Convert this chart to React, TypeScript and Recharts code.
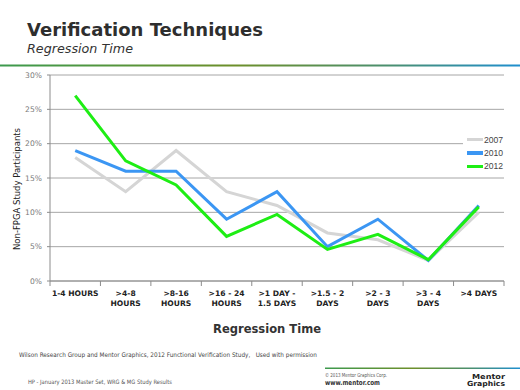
import React from 'react';
import { LineChart, Line, XAxis, YAxis, CartesianGrid, Legend } from 'recharts';

const categories = [
  '1-4 HOURS',
  '>4-8\nHOURS',
  '>8-16\nHOURS',
  '>16 - 24\nHOURS',
  '>1 DAY -\n1.5 DAYS',
  '>1.5 - 2\nDAYS',
  '>2 - 3\nDAYS',
  '>3 - 4\nDAYS',
  '>4 DAYS',
];
const values2007 = [18, 13, 19, 13, 11, 7, 6, 3, 10];
const values2010 = [19, 16, 16, 9, 13, 5, 9, 3, 11];
const values2012 = [27, 17.5, 14, 6.5, 9.7, 4.6, 6.8, 3.1, 10.8];
const yTicks = [0, 5, 10, 15, 20, 25, 30];
const seriesNames = ['2007', '2010', '2012'];
const seriesColors = ['#d5d5d5', '#3b96f3', '#1eee14'];

const data = categories.map((cat, i) => ({
  cat,
  '2007': values2007[i],
  '2010': values2010[i],
  '2012': values2012[i],
}));

const FONT = '"DejaVu Sans", Verdana, sans-serif';

const XTick = (props: any) => {
  const { x, y, payload, index, visibleTicksCount } = props;
  const off = payload && typeof payload.offset === 'number' && payload.offset > 0 ? payload.offset : 25.2;
  const lines = String(payload.value).split('\n');
  const isLast = index === visibleTicksCount - 1;
  return (
    <g>
      <line x1={x - off} x2={x - off} y1={y - 5} y2={y} stroke="#8c8c8c" strokeWidth={1} />
      {isLast && <line x1={x + off} x2={x + off} y1={y - 5} y2={y} stroke="#8c8c8c" strokeWidth={1} />}
      <text x={x} y={y} textAnchor="middle" fontFamily={FONT} fontWeight="bold" fontSize={7.6} fill="#222">
        {lines.map((ln, k) => (
          <tspan key={k} x={x} dy={10}>{ln}</tspan>
        ))}
      </text>
    </g>
  );
};

const LegendContent = () => (
  <div style={{ background: '#fff', padding: '0 0 0 4px', width: 52 }}>
    {seriesNames.map((n, i) => (
      <div key={n} style={{ display: 'flex', alignItems: 'center', height: 13.4 }}>
        <span style={{ display: 'inline-block', width: 16, height: 3.5, background: seriesColors[i] }} />
        <span style={{ fontFamily: '"Liberation Sans", Arial, sans-serif', fontSize: 8.6, color: '#444', marginLeft: 1, lineHeight: '10px' }}>{n}</span>
      </div>
    ))}
  </div>
);

export default function App() {
  return (
    <div style={{ position: 'absolute', left: 0, top: 0, width: 520, height: 390, background: '#fff', overflow: 'hidden' }}>
      <LineChart width={520} height={390} data={data} margin={{ top: 75, right: 16, left: 10, bottom: 64 }}>
        <CartesianGrid horizontal vertical={false} stroke="#a6a6a6" strokeWidth={1} />
        <XAxis
          dataKey="cat"
          scale="band"
          interval={0}
          height={45}
          tickLine={false}
          tickSize={5}
          tickMargin={0}
          axisLine={{ stroke: '#8c8c8c' }}
          tick={<XTick />}
        />
        <YAxis
          width={40}
          domain={[0, 30]}
          ticks={yTicks}
          interval={0}
          tickFormatter={(v: number) => `${v}%`}
          tickSize={3}
          tickMargin={5}
          axisLine={{ stroke: '#8c8c8c' }}
          tickLine={{ stroke: '#8c8c8c' }}
          tick={{ fontFamily: FONT, fontSize: 7.6, fill: '#7a7a7a' }}
        />
        <Legend
          layout="vertical"
          align="center"
          verticalAlign="middle"
          content={<LegendContent />}
          wrapperStyle={{ left: 463, top: 133, width: 57 }}
        />
        {seriesNames.map((n, i) => (
          <Line
            key={n}
            dataKey={n}
            type="linear"
            stroke={seriesColors[i]}
            strokeWidth={3}
            dot={false}
            activeDot={false}
            isAnimationActive={false}
          />
        ))}
      </LineChart>
      <svg width={520} height={390} style={{ position: 'absolute', left: 0, top: 0, pointerEvents: 'none' }}>
        <defs>
          <linearGradient id="sep" x1="0" x2="1" y1="0" y2="0">
            <stop offset="0%" stopColor="#3d9a4e" />
            <stop offset="45%" stopColor="#6d8f2a" />
            <stop offset="75%" stopColor="#4a8f70" />
            <stop offset="100%" stopColor="#1f8fcf" />
          </linearGradient>
        </defs>
        <text x={27} y={36} fontFamily={FONT} fontWeight="bold" fontSize={17.7} fill="#2e2e2e" textLength={236} lengthAdjust="spacingAndGlyphs">Verification Techniques</text>
        <text x={27} y={53} fontFamily={FONT} fontStyle="italic" fontSize={12} fill="#333" textLength={106} lengthAdjust="spacingAndGlyphs">Regression Time</text>
        <rect x={0} y={64.5} width={520} height={2} fill="url(#sep)" />
        <text transform="translate(19.5 189) rotate(-90)" textAnchor="middle" fontFamily={FONT} fontSize={8.5} fill="#222" textLength={122} lengthAdjust="spacingAndGlyphs">Non-FPGA Study Participants</text>
        <text x={267} y={333} textAnchor="middle" fontFamily={FONT} fontWeight="bold" fontSize={12.5} fill="#333" textLength={108} lengthAdjust="spacingAndGlyphs">Regression Time</text>
        <text x={19} y={357} fontFamily={FONT} fontSize={6.3} fill="#444" textLength={298} lengthAdjust="spacingAndGlyphs" style={{ whiteSpace: 'pre' }}>Wilson Research Group and Mentor Graphics, 2012 Functional Verification Study,   Used with permission</text>
        <text x={28} y={384} fontFamily={FONT} fontSize={6} fill="#555" textLength={144} lengthAdjust="spacingAndGlyphs">HP - January 2013 Master Set, WRG &amp; MG Study Results</text>
        <rect x={325} y={367.5} width={195} height={1.5} fill="url(#sep)" />
        <text x={325} y={376.5} fontFamily={FONT} fontSize={5.5} fill="#555" textLength={62} lengthAdjust="spacingAndGlyphs">© 2013 Mentor Graphics Corp.</text>
        <text x={325} y={384.5} fontFamily={FONT} fontWeight="bold" fontSize={7} fill="#333" textLength={55} lengthAdjust="spacingAndGlyphs">www.mentor.com</text>
        <text x={472} y={378.5} fontFamily={FONT} fontWeight="bold" fontSize={7} fill="#222" textLength={33} lengthAdjust="spacingAndGlyphs">Mentor</text>
        <text x={467} y={385.5} fontFamily={FONT} fontWeight="bold" fontSize={7} fill="#222" textLength={38} lengthAdjust="spacingAndGlyphs">Graphics</text>
      </svg>
    </div>
  );
}
